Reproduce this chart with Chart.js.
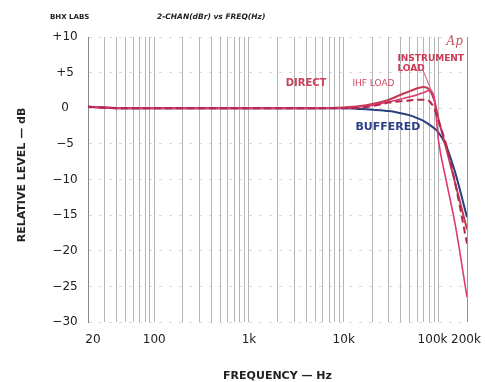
<!DOCTYPE html>
<html>
<head>
<meta charset="utf-8">
<script src="https://cdn.jsdelivr.net/npm/chart.js@4.4.0/dist/chart.umd.min.js"></script>
<style>
html, body { margin: 0; padding: 0; background: #fff; }
#wrap { width: 485px; height: 382px; }
</style>
</head>
<body>
<div id="wrap"><canvas id="myChart" width="485" height="382"></canvas></div>
<script>
// frequency points (Hz) and levels (dB)
const freqs = [20, 50, 100, 200, 500, 1000, 2000, 5000, 10000, 15000, 20000, 30000, 40000, 50000, 60000, 70000, 80000, 90000, 100000, 120000, 150000, 200000];
const directDb     = [0.2, 0, 0, 0, 0, 0, 0, 0, 0.1, 0.3, 0.6, 1.2, 1.9, 2.4, 2.8, 3.0, 2.6, 1.2, -1.5, -5.5, -10.5, -17];
const instrumentDb = [0.2, 0, 0, 0, 0, 0, 0, 0, 0, 0.2, 0.4, 0.9, 1.3, 1.6, 1.9, 2.2, 2.5, 1.5, -4.5, -10, -16.3, -26.5];
const ihfDb        = [0.2, 0, 0, 0, 0, 0, 0, 0, 0, 0.1, 0.3, 0.8, 1.0, 1.1, 1.2, 1.2, 1.0, 0, -1.8, -5, -10.5, -19];
const bufferedDb   = [0.2, 0, 0, 0, 0, 0, 0, 0, 0, -0.1, -0.2, -0.4, -0.7, -1.0, -1.4, -1.8, -2.3, -2.8, -3.4, -5.2, -9, -15.3];

const xTickVals = [20, 100, 1000, 10000, 100000, 200000];
const xTickLabels = ['20', '100', '1k', '10k', '100k', '200k'];
const yTickVals = [10, 5, 0, -5, -10, -15, -20, -25, -30];
const yTickLabels = ['+10', '+5', '0', '\u22125', '\u221210', '\u221215', '\u221220', '\u221225', '\u221230'];

// curve labels: [text, freq, dB, color, font, align]
const notes = [
    ['DIRECT', 4000, 3.5, '#c8405a', 'bold 10px "DejaVu Sans"', 'center'],
    ['IHF LOAD', 20600, 3.4, '#d04a60', '9px "DejaVu Sans"', 'center'],
    ['INSTRUMENT', 36900, 7.0, '#cc3a56', 'bold 9px "DejaVu Sans"', 'left'],
    ['LOAD', 36900, 5.6, '#cc3a56', 'bold 9px "DejaVu Sans"', 'left'],
    ['BUFFERED', 13300, -2.7, '#2b3f86', 'bold 11px "DejaVu Sans"', 'left']
];

function toPoints(vals) {
    return freqs.map((f, i) => ({ x: f, y: vals[i] }));
}

const textPlugin = {
    id: 'textPlugin',
    afterDraw(chart) {
        const ctx = chart.ctx;
        const xs = chart.scales.x;
        const ys = chart.scales.y;
        const area = chart.chartArea;
        ctx.save();
        ctx.textBaseline = 'middle';

        // header
        ctx.fillStyle = '#222';
        ctx.textAlign = 'left';
        ctx.font = 'bold 7px "DejaVu Sans"';
        ctx.fillText('BHX LABS', 50, 17);
        ctx.font = 'italic bold 7.5px "DejaVu Sans"';
        ctx.fillText('2-CHAN(dBr) vs FREQ(Hz)', 157, 17);

        // y tick labels
        ctx.font = '12px "DejaVu Sans"';
        ctx.textAlign = 'center';
        yTickVals.forEach((v, i) => {
            ctx.fillText(yTickLabels[i], area.left - 23, ys.getPixelForValue(v));
        });

        // x tick labels
        xTickVals.forEach((v, i) => {
            let px = xs.getPixelForValue(v);
            ctx.textAlign = 'center';
            if (i === 0) px += 5;
            if (i === xTickVals.length - 2) { ctx.textAlign = 'right'; px += 9; }
            if (i === xTickVals.length - 1) { ctx.textAlign = 'center'; px -= 1; }
            ctx.fillText(xTickLabels[i], px, area.bottom + 18);
        });

        // axis titles
        ctx.font = 'bold 11px "DejaVu Sans"';
        ctx.textAlign = 'center';
        ctx.fillText('FREQUENCY \u2014 Hz', (area.left + area.right) / 2, 376);
        ctx.save();
        ctx.translate(22, 175);
        ctx.rotate(-Math.PI / 2);
        ctx.fillText('RELATIVE LEVEL \u2014 dB', 0, 0);
        ctx.restore();

        // curve labels
        notes.forEach(n => {
            ctx.fillStyle = n[3];
            ctx.font = n[4];
            ctx.textAlign = n[5];
            ctx.fillText(n[0], xs.getPixelForValue(n[1]), ys.getPixelForValue(n[2]));
        });

        // pointer from INSTRUMENT LOAD
        ctx.strokeStyle = '#d05070';
        ctx.lineWidth = 1;
        ctx.beginPath();
        ctx.moveTo(xs.getPixelForValue(67900), ys.getPixelForValue(5.5));
        ctx.lineTo(xs.getPixelForValue(84500), ys.getPixelForValue(2.4));
        ctx.stroke();

        // Ap logo
        ctx.fillStyle = '#c85060';
        ctx.font = 'italic 12px "DejaVu Serif"';
        ctx.textAlign = 'left';
        ctx.fillText('Ap', xs.getPixelForValue(121700), ys.getPixelForValue(9.3));
        ctx.restore();
    }
};

function initializeChart() {
    const ctx = document.getElementById('myChart').getContext('2d');
    return new Chart(ctx, {
        type: 'line',
        data: {
            datasets: [
                {
                    label: 'IHF LOAD',
                    data: toPoints(ihfDb),
                    borderColor: '#b5284c',
                    borderWidth: 2,
                    borderDash: [7, 4]
                },
                {
                    label: 'INSTRUMENT LOAD',
                    data: toPoints(instrumentDb),
                    borderColor: '#e03a72',
                    borderWidth: 1.6
                },
                {
                    label: 'DIRECT',
                    data: toPoints(directDb),
                    borderColor: '#c43a50',
                    borderWidth: 2
                },
                {
                    label: 'BUFFERED',
                    data: toPoints(bufferedDb),
                    borderColor: '#2a3f7e',
                    borderWidth: 2
                }
            ]
        },
        options: {
            responsive: false,
            animation: false,
            devicePixelRatio: 1,
            layout: { padding: { left: 88, right: 18, top: 37, bottom: 60 } },
            elements: {
                point: { radius: 0 },
                line: { cubicInterpolationMode: 'monotone' }
            },
            plugins: {
                legend: { display: false },
                tooltip: { enabled: false }
            },
            scales: {
                x: {
                    type: 'logarithmic',
                    min: 20,
                    max: 200000,
                    afterBuildTicks(scale) {
                        const t = [];
                        for (let dec = 10; dec <= 100000; dec *= 10) {
                            for (let m = 1; m <= 9; m++) {
                                const v = m * dec;
                                if (v >= 20 && v <= 200000) t.push({ value: v });
                            }
                        }
                        t.push({ value: 200000 });
                        scale.ticks = t;
                    },
                    ticks: { display: false },
                    grid: { color: 'rgba(120,120,120,0.55)', lineWidth: 1, drawTicks: false },
                    border: { display: false }
                },
                y: {
                    min: -30,
                    max: 10,
                    ticks: { display: false, stepSize: 5 },
                    grid: { color: 'rgba(150,150,150,0.35)', lineWidth: 1, drawTicks: false },
                    border: { display: true, color: '#888', width: 1, dash: [3, 7] }
                }
            }
        },
        plugins: [textPlugin]
    });
}

const chart = initializeChart();
</script>
</body>
</html>
